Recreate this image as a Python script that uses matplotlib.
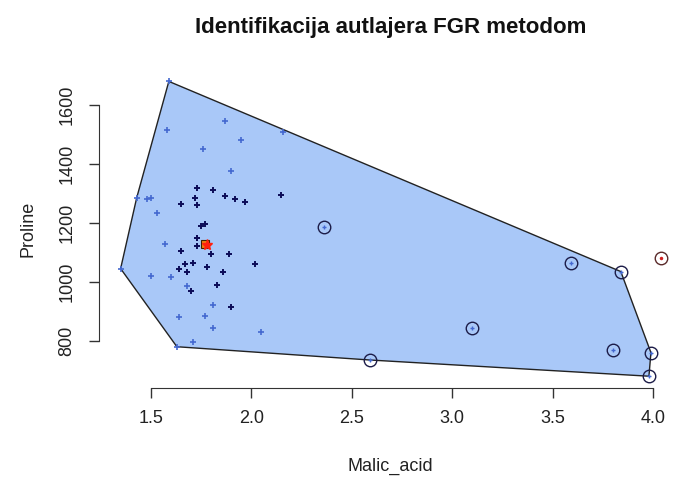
import matplotlib
matplotlib.use("Agg")
import matplotlib.pyplot as plt
import numpy as np

plt.rcParams['font.family'] = ['Liberation Sans', 'DejaVu Sans']

# wine, klasa 1: Malic_acid i Proline
# tacke blizu centra (tamne)
mal_inner = [1.73, 1.81, 1.72, 1.73, 1.65, 1.87, 1.92, 1.97, 2.15, 1.75, 1.77,
             1.73, 1.73, 1.73, 1.65, 1.80, 1.89, 1.67, 1.71, 1.64, 1.68, 1.78,
             1.86, 2.02, 1.83, 1.70, 1.90]
pro_inner = [1320, 1310, 1285, 1260, 1265, 1290, 1280, 1270, 1295, 1190, 1195,
             1150, 1150, 1120, 1105, 1095, 1095, 1060, 1065, 1045, 1035, 1050,
             1035, 1060, 990, 970, 915]
# dalje od centra (svjetlije)
mal_outer = [1.58, 1.87, 1.95, 1.76, 1.90, 2.16, 1.43, 1.48, 1.50, 1.53, 1.57,
             1.50, 1.60, 1.68, 1.81, 1.64, 1.77, 1.81, 2.05, 1.71, 1.59, 1.35, 1.63]
pro_outer = [1515, 1547, 1480, 1450, 1375, 1510, 1285, 1280, 1285, 1235, 1130,
             1020, 1015, 985, 920, 880, 885, 845, 830, 795, 1680, 1045, 780]
# kandidati za autlajere (zaokruzeni)
mal_cand = [2.36, 2.59, 3.10, 3.59, 3.84, 3.80, 3.99, 3.98]
pro_cand = [1185, 735, 845, 1065, 1035, 770, 760, 680]
# autlajer FGR metodom
mal_out = [4.04]
pro_out = [1080]
# centar
centar = (1.77, 1130)


def hull(pts):
    pts = sorted(set(pts))
    def cross(o, a, b):
        return (a[0] - o[0]) * (b[1] - o[1]) - (a[1] - o[1]) * (b[0] - o[0])
    lower, upper = [], []
    for p in pts:
        while len(lower) >= 2 and cross(lower[-2], lower[-1], p) <= 0:
            lower.pop()
        lower.append(p)
    for p in reversed(pts):
        while len(upper) >= 2 and cross(upper[-2], upper[-1], p) <= 0:
            upper.pop()
        upper.append(p)
    return lower[:-1] + upper[:-1]


sve_x = mal_inner + mal_outer + mal_cand
sve_y = pro_inner + pro_outer + pro_cand
h = np.array(hull(list(zip(sve_x, sve_y))))

fig = plt.figure(figsize=(6.73, 4.79), dpi=100)
ax = fig.add_axes([99 / 673, 91 / 479, 583.6 / 673, 318.4 / 479])

ax.fill(h[:, 0], h[:, 1], facecolor='#a9c8f8', edgecolor='#222222', lw=1.0, zorder=1)

ax.plot(mal_inner, pro_inner, '+', color='#0c0c58', ms=4, mew=1.4, zorder=3)
ax.plot(mal_outer, pro_outer, '+', color='#4468d0', ms=4, mew=1.2, zorder=3)
ax.plot(mal_cand, pro_cand, '+', color='#4468d0', ms=3.5, mew=1.0, zorder=3)
ax.plot(mal_cand, pro_cand, 'o', mfc='none', mec='#1c1c48', ms=9, mew=1.0, zorder=4)
ax.plot(mal_out, pro_out, '.', color='#d02020', ms=3, zorder=3)
ax.plot(mal_out, pro_out, 'o', mfc='none', mec='#5a2a2a', ms=9, mew=1.0, zorder=4)
ax.plot(centar[0], centar[1], 's', color='#f08010', mec='#402000', ms=5.5, mew=0.8, zorder=5)
ax.plot(centar[0] + 0.01, centar[1] - 5, '*', color='#ff2010', ms=8, zorder=6)

# R-ov raspon osa (4% prosirenja)
xs = sve_x + mal_out
ys = sve_y + pro_out
dx = (max(xs) - min(xs)) * 0.04
dy = (max(ys) - min(ys)) * 0.04
ax.set_xlim(min(xs) - dx, max(xs) + dx)
ax.set_ylim(min(ys) - dy, max(ys) + dy)

ax.set_xticks([1.5, 2.0, 2.5, 3.0, 3.5, 4.0])
ax.set_xticklabels(['1.5', '2.0', '2.5', '3.0', '3.5', '4.0'])
ax.set_yticks([800, 1000, 1200, 1400, 1600])
ax.set_yticklabels(['800', '1000', '1200', '1400', '1600'], rotation=90, va='center')

for s in ['top', 'right']:
    ax.spines[s].set_visible(False)
ax.spines['bottom'].set_bounds(1.5, 4.0)
ax.spines['left'].set_bounds(800, 1600)
for s in ['bottom', 'left']:
    ax.spines[s].set_color('#333333')
ax.tick_params(direction='out', length=7, width=1, colors='#333333',
               labelsize=13, labelcolor='#222222')
ax.tick_params(axis='x', pad=9)
ax.tick_params(axis='y', pad=10)

ax.set_xlabel('Malic_acid', fontsize=13, color='#222222', labelpad=22)
ax.set_ylabel('Proline', fontsize=13, color='#222222', labelpad=16)
ax.set_title('Identifikacija autlajera FGR metodom', fontsize=16, fontweight='bold',
             color='#111111', pad=26)

fig.savefig('out.png', dpi=100)
